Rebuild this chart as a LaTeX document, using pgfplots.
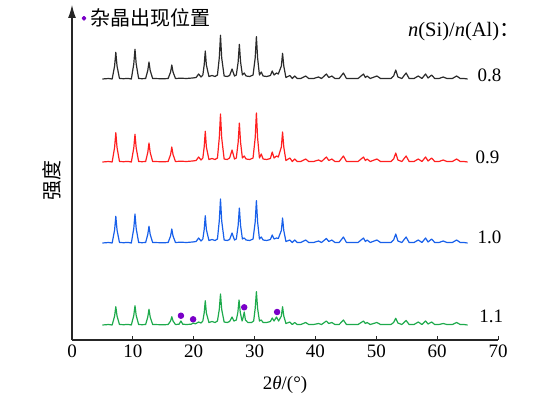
\documentclass[border=0pt]{standalone}
\usepackage{fontspec}
\setmainfont{Liberation Serif}
\newfontfamily\cjk{Noto Sans CJK SC}
\usepackage{pgfplots}
\usepackage{pgfplotstable}
\pgfplotsset{compat=1.18}
\usetikzlibrary{arrows.meta}
\definecolor{cA}{HTML}{2B2B2B}
\definecolor{cB}{HTML}{FF1F1F}
\definecolor{cC}{HTML}{1860EA}
\definecolor{cD}{HTML}{1EAA4C}
\definecolor{cP}{HTML}{7A00C8}
% relative intensities (px above each pattern's baseline)
\pgfplotstableread{
x i
5.0 0
6.0 0.5
6.6 0
7.0 13
7.2 26.7
7.4 13
7.8 0.5
8.5 0.3
9.2 0.6
9.75 0
10.15 15
10.35 29.7
10.55 15
10.95 0.5
11.5 0.3
12.1 0.5
12.45 8.5
12.65 17
12.85 8.5
13.25 0.5
14.0 0.4
15.0 0.2
15.8 0.5
16.2 7
16.4 14
16.6 7
17.0 0.5
17.9 0.8
18.8 0.5
19.8 1
20.4 1.5
20.8 5
21.2 2
21.5 4
21.72 14
21.9 28
22.08 14
22.5 2.5
23.0 3.5
23.5 2.5
23.9 4
24.2 21
24.4 43.7
24.6 21
25.0 3
25.5 2.5
25.9 3.5
26.3 10
26.7 3
27.0 4
27.3 17
27.5 34.7
27.7 17
28.0 4
28.3 6
28.6 3
29.2 2.5
29.75 4
30.1 21
30.3 42.3
30.5 21
30.8 4
31.1 7
31.4 3
32.0 2.5
32.6 3.5
32.9 8
33.2 4
33.6 6
33.9 5
34.4 13
34.6 25.7
34.8 13
35.15 1.5
35.8 3.5
36.2 0.5
36.6 3
37.0 0.5
37.6 0.5
38.4 3
38.9 0.5
39.7 0.5
40.5 2
41.0 0.5
41.8 5
42.2 1.5
42.7 3
43.2 0.5
43.9 0.5
44.6 6
45.1 0.5
46.0 0.5
47.0 0.5
47.9 5
48.2 1.5
48.5 3
49.0 0.5
50.1 3
50.7 0.5
51.5 0.5
52.4 0.5
52.85 3
53.2 9
53.55 2
54.2 0.5
54.9 6
55.4 0.5
56.2 0.5
56.9 3
57.5 0.5
58.1 5
58.5 1
59.1 4
59.6 0.5
60.3 0.5
61.0 2
61.6 0.5
62.5 0.5
63.2 3
63.8 0.5
64.4 0.5
65.0 0
}\tA
\pgfplotstableread{
x i
5.0 0
6.0 0.5
6.6 0
7.0 14.5
7.2 29.3
7.4 14.5
7.8 0.5
8.5 0.3
9.2 0.6
9.75 0
10.15 14
10.35 27.7
10.55 14
10.95 0.5
11.5 0.3
12.1 0.5
12.45 9.5
12.65 19
12.85 9.5
13.25 0.5
14.0 0.4
15.0 0.2
15.8 0.5
16.2 7.5
16.4 15
16.6 7.5
17.0 0.5
17.9 0.8
18.8 0.5
19.8 1
20.4 1.5
20.8 5
21.2 2
21.5 4
21.72 15
21.9 30.7
22.08 15
22.5 2.5
23.0 3.5
23.5 2.5
23.9 4
24.2 24
24.4 48
24.6 24
25.0 3
25.5 2.5
25.9 4
26.3 12
26.7 3
27.0 4
27.3 19.5
27.5 39
27.7 19.5
28.0 4
28.3 6
28.6 3
29.2 2.5
29.75 4
30.1 24
30.3 49
30.5 24
30.8 4
31.1 8
31.4 3
32.0 2.5
32.6 3.5
32.9 10
33.2 4
33.6 6
33.9 5
34.4 15
34.6 30
34.8 15
35.15 1.5
35.8 4
36.2 0.5
36.6 3
37.0 0.5
37.6 0.5
38.4 3
38.9 0.5
39.7 0.5
40.5 2
41.0 0.5
41.8 5
42.2 1.5
42.7 3
43.2 0.5
43.9 0.5
44.6 6
45.1 0.5
46.0 0.5
47.0 0.5
47.9 5
48.2 1.5
48.5 3
49.0 0.5
50.1 3
50.7 0.5
51.5 0.5
52.4 0.5
52.85 3
53.2 9
53.55 2
54.2 0.5
54.9 6
55.4 0.5
56.2 0.5
56.9 3
57.5 0.5
58.1 5
58.5 1
59.1 4
59.6 0.5
60.3 0.5
61.0 2
61.6 0.5
62.5 0.5
63.2 3
63.8 0.5
64.4 0.5
65.0 0
}\tB
\pgfplotstableread{
x i
5.0 0
6.0 0.5
6.6 0
7.0 13
7.2 26.7
7.4 13
7.8 0.5
8.5 0.3
9.2 0.6
9.75 0
10.15 14.5
10.35 29
10.55 14.5
10.95 0.5
11.5 0.3
12.1 0.5
12.45 8.5
12.65 16.7
12.85 8.5
13.25 0.5
14.0 0.4
15.0 0.2
15.8 0.5
16.2 7
16.4 14
16.6 7
17.0 0.5
17.9 0.8
18.8 0.5
19.8 1
20.4 1.5
20.8 5
21.2 2
21.5 4
21.72 13.5
21.9 27.3
22.08 13.5
22.5 2.5
23.0 3.5
23.5 2.5
23.9 4
24.2 22
24.4 44
24.6 22
25.0 3
25.5 2.5
25.9 3.5
26.3 10
26.7 3
27.0 4
27.3 17.5
27.5 35
27.7 17.5
28.0 4
28.3 5
28.6 3
29.2 2.5
29.75 4
30.1 21
30.3 42.3
30.5 21
30.8 4
31.1 6
31.4 3
32.0 2.5
32.6 3.5
32.9 8
33.2 4
33.6 5
33.9 4.5
34.4 12.5
34.6 25
34.8 12.5
35.15 1.5
35.8 3
36.2 0.5
36.6 3
37.0 0.5
37.6 0.5
38.4 3
38.9 0.5
39.7 0.5
40.5 2
41.0 0.5
41.8 4.5
42.2 1.5
42.7 3
43.2 0.5
43.9 0.5
44.6 6
45.1 0.5
46.0 0.5
47.0 0.5
47.9 5
48.2 1.5
48.5 3
49.0 0.5
50.1 3
50.7 0.5
51.5 0.5
52.4 0.5
52.85 3
53.2 9
53.55 2
54.2 0.5
54.9 6
55.4 0.5
56.2 0.5
56.9 3
57.5 0.5
58.1 5
58.5 1
59.1 4
59.6 0.5
60.3 0.5
61.0 2
61.6 0.5
62.5 0.5
63.2 3
63.8 0.5
64.4 0.5
65.0 0
}\tC
\pgfplotstableread{
x i
5.0 0
6.0 0.5
6.6 0
7.0 9
7.2 18.3
7.4 9
7.8 0.5
8.5 0.3
9.2 0.6
9.75 0
10.15 9.5
10.35 19.3
10.55 9.5
10.95 0.5
11.5 0.3
12.1 0.5
12.45 8
12.65 15.7
12.85 8
13.25 0.5
14.0 0.4
15.0 0.2
15.8 0.5
16.2 4
16.4 8.3
16.6 4
17.0 0.5
17.6 0.8
17.9 4
18.2 0.8
18.8 0.5
19.6 0.8
19.9 2
20.3 1.2
20.8 3
21.2 2
21.5 4
21.72 12
21.9 24.3
22.08 12
22.5 2.5
23.0 3.5
23.5 2.5
23.9 4
24.2 15.5
24.4 31
24.6 15.5
25.0 3
25.5 2.5
25.9 3.5
26.3 8
26.6 4
27.0 5
27.25 12.5
27.45 25
27.65 12.5
27.95 4
28.1 7
28.3 13
28.5 5
28.9 2.5
29.5 2.5
29.85 4
30.1 16.5
30.3 33.3
30.5 16.5
30.8 4
31.1 5
31.4 2.5
32.0 2.5
32.6 3.5
32.9 7
33.2 4
33.6 8
33.95 4
34.4 9
34.6 18.3
34.8 9
35.15 1.5
35.8 3
36.2 0.5
36.6 2.5
37.0 0.5
37.6 0.5
38.4 2.5
38.9 0.5
39.7 0.5
40.5 1.5
41.0 0.5
41.8 4
42.2 1.5
42.7 2.5
43.2 0.5
43.9 0.5
44.6 5
45.1 0.5
46.0 0.5
47.0 0.5
47.9 4
48.2 1.5
48.5 2.5
49.0 0.5
50.1 2.5
50.7 0.5
51.5 0.5
52.4 0.5
52.85 2.5
53.2 6.7
53.55 2
54.2 0.5
54.9 4.5
55.4 0.5
56.2 0.5
56.9 3
57.5 0.5
58.1 4
58.5 1
59.1 3
59.6 0.5
60.3 0.5
61.0 1.5
61.6 0.5
62.5 0.5
63.2 2.5
63.8 0.5
64.4 0.5
65.0 0
}\tD
\begin{document}
\begin{tikzpicture}
\useasboundingbox (0,0) rectangle (540pt,397pt);
\begin{axis}[
  at={(72pt,57pt)}, anchor=south west,
  scale only axis, width=426pt, height=335pt,
  xmin=0, xmax=70, ymin=0, ymax=335,
  axis x line*=bottom, axis y line=left,
  axis line style={line width=1.1pt, color=black!85},
  y axis line style={-{Latex[length=13pt,width=8pt]}},
  xtick={0,10,...,70}, ytick=\empty,
  tick align=inside, major tick length=4pt,
  tick style={line width=1pt, color=black!85},
  xticklabel style={font=\fontsize{19}{22}\selectfont, yshift=-1pt},
  /pgf/number format/assume math mode=true,
  clip=false,
  every axis plot/.append style={line width=1.2pt, line join=round},
]
\addplot[cA] table[x=x, y expr=\thisrow{i}+261] {\tA};
\addplot[cB] table[x=x, y expr=\thisrow{i}+178] {\tB};
\addplot[cC] table[x=x, y expr=\thisrow{i}+97] {\tC};
\addplot[cD] table[x=x, y expr=\thisrow{i}+15] {\tD};
\addplot[only marks, mark=*, mark size=2.6pt, color=cP] coordinates {(17.9,24.3) (19.9,20.7) (28.3,32.7) (33.7,28)};
\addplot[only marks, mark=*, mark size=1.8pt, color=cP] coordinates {(1.97,321.7)};
\node[anchor=west, inner sep=0pt, font=\fontsize{20}{24}\selectfont\cjk] at (axis cs:3.0,322.5) {杂晶出现位置};
\node[anchor=west, inner sep=0pt, font=\fontsize{20.5}{24}\selectfont] at (axis cs:55.2,308) {\textit{n}(Si)/\textit{n}(Al){\cjk ：}};
\node[anchor=west, inner sep=0pt, font=\fontsize{19}{22}\selectfont] at (axis cs:66.6,265) {0.8};
\node[anchor=west, inner sep=0pt, font=\fontsize{19}{22}\selectfont] at (axis cs:66.3,183) {0.9};
\node[anchor=west, inner sep=0pt, font=\fontsize{19}{22}\selectfont] at (axis cs:66.6,103) {1.0};
\node[anchor=west, inner sep=0pt, font=\fontsize{19}{22}\selectfont] at (axis cs:66.9,23.5) {1.1};
\node[font=\fontsize{19}{22}\selectfont] at (axis cs:35,-45) {2\textit{θ}/(°)};
\node[rotate=90, font=\fontsize{20}{24}\selectfont\cjk] at (axis cs:-3.3,160) {强度};
\end{axis}
\end{tikzpicture}
\end{document}
